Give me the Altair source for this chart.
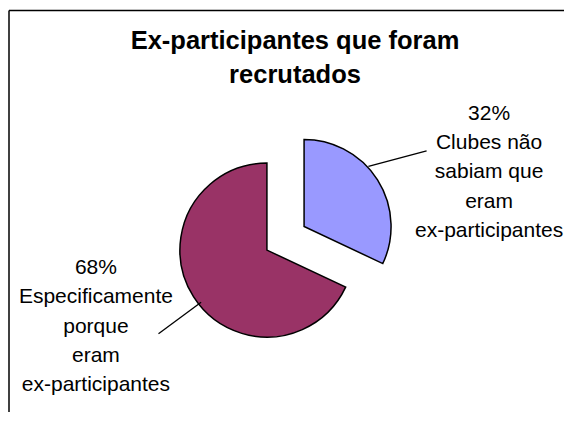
import altair as alt
import pandas as pd

# ---- data ----
CATEGORIES = [
    "Clubes não sabiam que eram ex-participantes",
    "Especificamente porque eram ex-participantes",
]
LABEL_LINES = [
    ["Clubes não", "sabiam que", "eram", "ex-participantes"],
    ["Especificamente", "porque", "eram", "ex-participantes"],
]
PERCENT = [32, 68]
COLORS = ["#9999FF", "#993366"]
TITLE_LINES = ["Ex-participantes que foram", "recrutados"]

df = pd.DataFrame({
    "order": list(range(len(CATEGORIES))),
    "category": CATEGORIES,
    "value": PERCENT,
    "label": [f"{p}%\n" + "\n".join(lines) for p, lines in zip(PERCENT, LABEL_LINES)],
})

# ---- layout constants ----
W, H = 556, 404
CX, CY = 277.5, 230.3       # common pie centre (px)
EXPLODE = 22                # slice explosion (px)
R = 87                      # pie radius (px)
FONT = "Liberation Sans"

base = (
    alt.Chart(df)
    .transform_joinaggregate(total="sum(value)")
    .transform_window(cum="sum(value)", sort=[alt.SortField("order", order="ascending")], frame=[None, 0])
    .transform_calculate(t0="2*PI*(datum.cum-datum.value)/datum.total")
    .transform_calculate(t1="2*PI*datum.cum/datum.total")
    .transform_calculate(mid="(datum.t0+datum.t1)/2")
    .transform_calculate(cx=f"{CX}+{EXPLODE}*sin(datum.mid)")
    .transform_calculate(cy=f"{CY}-{EXPLODE}*cos(datum.mid)")
    .transform_calculate(side="sin(datum.mid) > 0 ? 1 : -1")
    # leader line (start on the slice edge, end towards the label)
    .transform_calculate(a1="datum.mid + (datum.side > 0 ? -0.185 : -0.105)")
    .transform_calculate(r1="datum.side > 0 ? 88 : 84")
    .transform_calculate(a2="datum.mid + (datum.side > 0 ? 0.012 : -0.092)")
    .transform_calculate(r2="datum.side > 0 ? 144 : 137")
    .transform_calculate(lx1="datum.cx+datum.r1*sin(datum.a1)")
    .transform_calculate(ly1="datum.cy-datum.r1*cos(datum.a1)")
    .transform_calculate(lx2="datum.cx+datum.r2*sin(datum.a2)")
    .transform_calculate(ly2="datum.cy-datum.r2*cos(datum.a2)")
    # label anchor (first baseline)
    .transform_calculate(tx="datum.cx+122*sin(datum.mid)+75*datum.side+7")
    .transform_calculate(ty="datum.cy-122*cos(datum.mid)-41.5")
)

arcs = base.mark_arc(radius=R, stroke="black", strokeWidth=1.5).encode(
    theta=alt.Theta("t0:Q", scale=None),
    theta2=alt.Theta2("t1:Q"),
    x=alt.X("cx:Q", scale=None),
    y=alt.Y("cy:Q", scale=None),
    color=alt.Color("category:N", scale=alt.Scale(domain=CATEGORIES, range=COLORS), legend=None),
)

leaders = base.mark_rule(color="black", strokeWidth=1.3).encode(
    x=alt.X("lx1:Q", scale=None),
    y=alt.Y("ly1:Q", scale=None),
    x2=alt.X2("lx2:Q"),
    y2=alt.Y2("ly2:Q"),
)

labels = base.mark_text(
    font=FONT, fontSize=21, lineBreak="\n", lineHeight=29.35,
    align="center", baseline="alphabetic", color="black",
).encode(
    x=alt.X("tx:Q", scale=None),
    y=alt.Y("ty:Q", scale=None),
    text=alt.Text("label:N"),
)

title = alt.Chart(pd.DataFrame({"t": ["\n".join(TITLE_LINES)]})).mark_text(
    font=FONT, fontSize=25.5, fontWeight="bold", lineBreak="\n", lineHeight=34,
    align="center", baseline="alphabetic", color="black",
).encode(x=alt.value(287), y=alt.value(41), text="t:N")

frame_top = alt.Chart(pd.DataFrame({"a": [0]})).mark_rule(color="black", strokeWidth=1.5).encode(
    x=alt.value(1), x2=alt.value(W), y=alt.value(2.5)
)
frame_left = alt.Chart(pd.DataFrame({"a": [0]})).mark_rule(color="black", strokeWidth=1.5).encode(
    x=alt.value(1), y=alt.value(2.5), y2=alt.value(H)
)

chart = (
    alt.layer(frame_top, frame_left, arcs, leaders, labels, title)
    .properties(width=W, height=H, padding=0, autosize=alt.AutoSizeParams(type="none"), background="white")
    .configure_view(stroke=None)
)

chart.save("out.html", embed_options={"renderer": "svg", "actions": False})
